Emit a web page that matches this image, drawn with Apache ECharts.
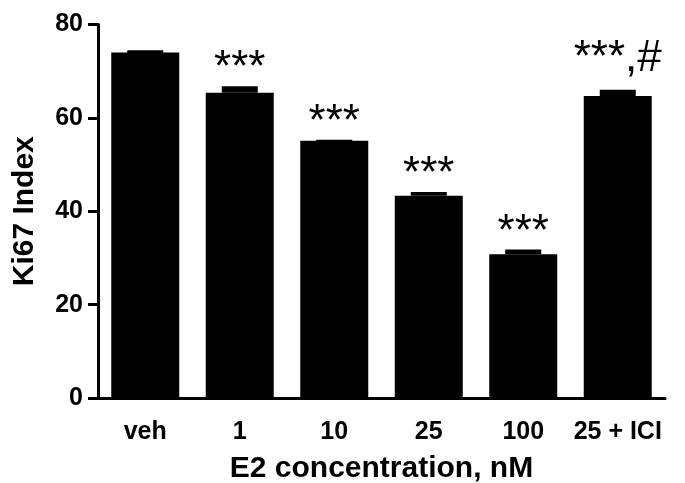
<!DOCTYPE html>
<html>
<head>
<meta charset="utf-8">
<script src="https://cdn.jsdelivr.net/npm/echarts@6/dist/echarts.min.js"></script>
<style>
  html, body { margin: 0; padding: 0; background: #fff; }
  #chart { width: 685px; height: 483px; }
</style>
</head>
<body>
<div id="chart"></div>
<script>
// Ki67 index vs E2 concentration
const categories = ['veh', '1', '10', '25', '100', '25 + ICI']
const means = [74.0, 65.4, 55.1, 43.3, 30.8, 64.7]
const sems = [0.5, 1.4, 0.2, 0.8, 1.0, 1.3]
const notes = ['', '***', '***', '***', '***', '***,#']
const yTicks = [0, 20, 40, 60, 80]

const FONT = '"Liberation Sans", Arial, sans-serif'

const chart = echarts.init(document.getElementById('chart'))

const errData = means.map((m, i) => [i, m, m + sems[i]])

const option = {
  animation: false,
  grid: { left: 98, right: 20, top: 24.5, bottom: 85, outerBoundsMode: 'none' },
  xAxis: {
    type: 'category',
    data: categories,
    name: 'E2 concentration, nM',
    nameLocation: 'middle',
    nameGap: 56,
    nameTextStyle: { fontFamily: FONT, fontSize: 30, fontWeight: 'bold', color: '#000' },
    axisLine: { lineStyle: { color: '#000', width: 3 } },
    axisTick: { alignWithLabel: true, length: 11, lineStyle: { color: '#000', width: 3 } },
    axisLabel: { interval: 0, margin: 22, fontFamily: FONT, fontSize: 25, fontWeight: 'bold', color: '#000' }
  },
  yAxis: {
    type: 'value',
    min: yTicks[0],
    max: yTicks[yTicks.length - 1],
    interval: yTicks[1] - yTicks[0],
    name: 'Ki67 Index',
    nameLocation: 'middle',
    nameGap: 58,
    nameTextStyle: { fontFamily: FONT, fontSize: 30, fontWeight: 'bold', color: '#000' },
    axisLine: { show: true, lineStyle: { color: '#000', width: 3 } },
    axisTick: { show: true, length: 10, lineStyle: { color: '#000', width: 3 } },
    axisLabel: { margin: 15, fontFamily: FONT, fontSize: 25, fontWeight: 'bold', color: '#000' },
    splitLine: { show: false }
  },
  series: [
    {
      type: 'bar',
      data: means,
      barWidth: 68,
      itemStyle: { color: '#000' },
      z: 2
    },
    {
      // error caps + significance marks
      type: 'custom',
      data: errData,
      z: 3,
      renderItem: (params, api) => {
        const i = api.value(0)
        const top = api.coord([i, api.value(1)])
        const hi = api.coord([i, api.value(2)])
        const capW = 36
        const note = notes[i]
        // asterisks sit high in the line; a label with '#' needs lifting
        const lift = note.indexOf('#') >= 0 ? -9 : 5
        const children = [
          {
            type: 'rect',
            shape: { x: top[0] - capW / 2, y: hi[1], width: capW, height: Math.max(top[1] - hi[1], 3) },
            style: { fill: '#000' }
          }
        ]
        if (note) {
          children.push({
            type: 'text',
            x: top[0],
            y: hi[1] + lift,
            style: {
              text: note,
              font: '44px ' + FONT,
              lineHeight: 44,
              align: 'center',
              verticalAlign: 'bottom',
              fill: '#000'
            }
          })
        }
        return { type: 'group', children }
      }
    }
  ]
}

chart.setOption(option)
</script>
</body>
</html>
